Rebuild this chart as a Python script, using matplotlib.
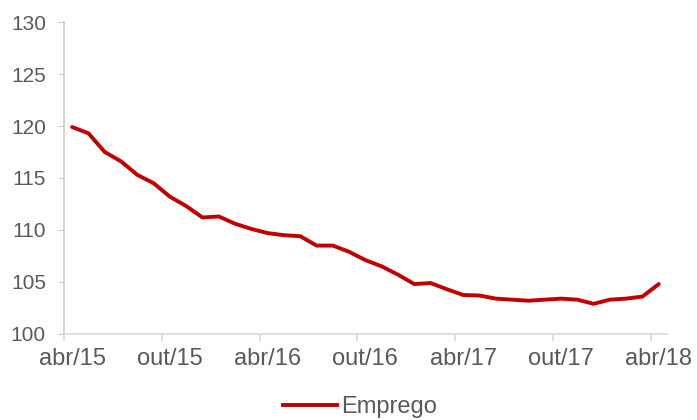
import numpy as np
from matplotlib import pyplot as plt
from matplotlib.lines import Line2D

# monthly employment index, abr/15 .. abr/18
emprego = [119.9, 119.3, 117.5, 116.6, 115.3, 114.5, 113.2, 112.3, 111.2, 111.3,
           110.6, 110.1, 109.7, 109.5, 109.4, 108.5, 108.5, 107.9, 107.1, 106.5,
           105.7, 104.8, 104.9, 104.3, 103.75, 103.7, 103.4, 103.3, 103.2, 103.3,
           103.4, 103.3, 102.9, 103.3, 103.4, 103.6, 104.8]
xlabels = ['abr/15', 'out/15', 'abr/16', 'out/16', 'abr/17', 'out/17', 'abr/18']
yticks = [100, 105, 110, 115, 120, 125, 130]

plt.rcParams['font.family'] = ['Liberation Sans', 'DejaVu Sans']
grey = '#595959'

fig = plt.figure(figsize=(6.97, 4.2), dpi=100)
ax = fig.add_axes([0.0918, 0.2048, 0.865, 0.7428])

x = np.arange(len(emprego))
ax.plot(x, emprego, color='#C00000', lw=2.8, solid_capstyle='round', solid_joinstyle='round')

ax.set_xlim(-0.5, 36.5)
ax.set_ylim(100, 130)
ax.set_yticks(yticks)
ax.tick_params(axis='y', labelsize=15, colors='#CFCDC0', labelcolor=grey, length=4, pad=9)

# tick marks between categories, labels on the months
ax.set_xticks(np.arange(0, 37, 6) - 0.5)
ax.set_xticklabels([])
ax.set_xticks(np.arange(0, 37, 6), minor=True)
ax.set_xticklabels(xlabels, minor=True)
ax.tick_params(axis='x', which='major', colors='#D9D9D9', length=5, width=1.2)
ax.tick_params(axis='x', which='minor', length=0, labelsize=17, labelcolor=grey, pad=10)

for s in ['top', 'right']:
    ax.spines[s].set_visible(False)
ax.spines['left'].set_color('#CFCDC0')
ax.spines['left'].set_linewidth(1.2)
ax.spines['bottom'].set_color('#D9D9D9')
ax.spines['bottom'].set_linewidth(1.2)

handle = Line2D([], [], color='#C00000', lw=2.8)
fig.legend([handle], ['Emprego'], loc='center', bbox_to_anchor=(0.5165, 0.03),
           frameon=False, fontsize=17, labelcolor=grey, handlelength=2.3, handletextpad=0.2,
           borderpad=0.1)

fig.savefig('out.png', dpi=100)
